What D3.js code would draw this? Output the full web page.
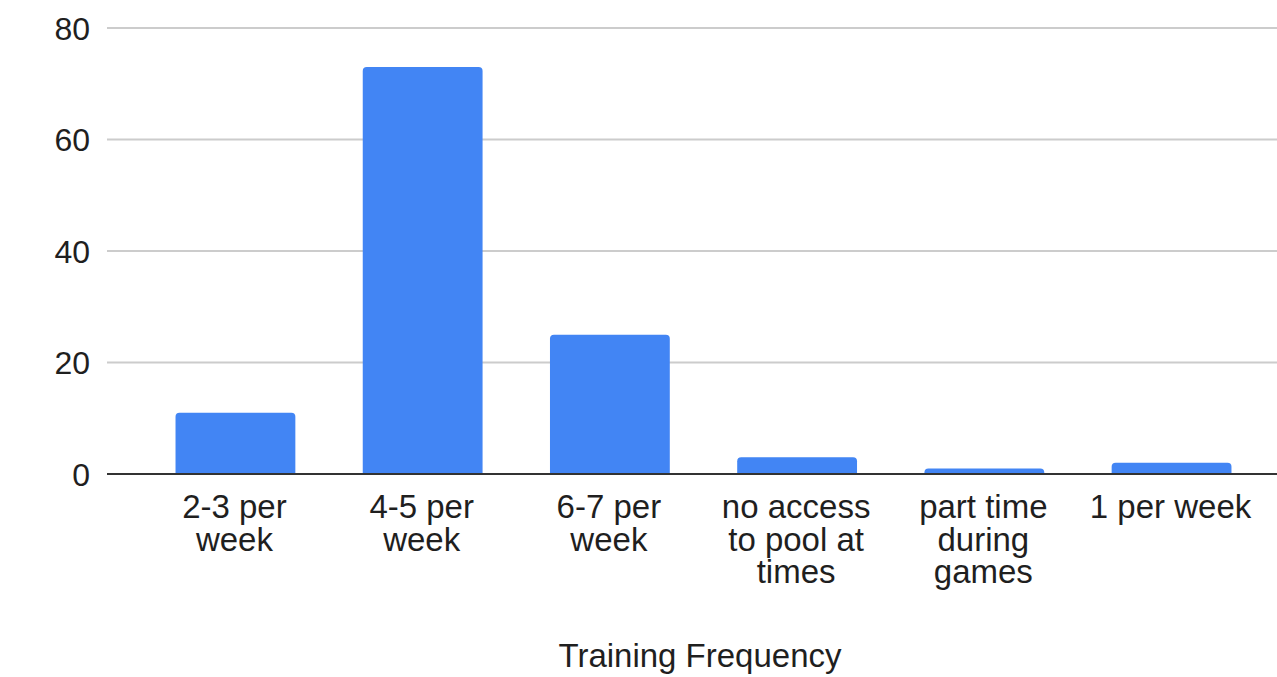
<!DOCTYPE html>
<html>
<head>
<meta charset="utf-8">
<script src="https://cdn.jsdelivr.net/npm/d3@7"></script>
<style>
  html, body { margin: 0; padding: 0; background: #fff; overflow: hidden; }
  svg { display: block; }
  text { font-family: Arial, "Liberation Sans", sans-serif; fill: #1f1f1f; }
</style>
</head>
<body>
<svg id="chart" width="1277" height="677"></svg>
<script>
// Training frequency survey counts
const categories = ["2-3 per week", "4-5 per week", "6-7 per week", "no access to pool at times", "part time during games", "1 per week"];
const counts = [11, 73, 25, 3, 1, 2];
const yTicks = [0, 20, 40, 60, 80];
const xTitle = "Training Frequency";

(function draw() {
  const svg = d3.select("#chart");
  const W = 1277;
  const plotLeft = 107, plotRight = 1300, plotTop = 28, plotBottom = 474;
  const labelSize = 33;

  const x = d3.scaleBand()
    .domain(categories)
    .range([plotLeft, plotRight])
    .paddingInner(0.36)
    .paddingOuter(0.366);

  const y = d3.scaleLinear().domain([0, 80]).range([plotBottom, plotTop]);

  // horizontal gridlines
  svg.append("g").selectAll("line")
    .data(yTicks.filter(d => d !== 0))
    .join("line")
    .attr("x1", plotLeft).attr("x2", W)
    .attr("y1", d => y(d)).attr("y2", d => y(d))
    .attr("stroke", "#cccccc").attr("stroke-width", 2);

  // y tick labels
  svg.append("g").selectAll("text")
    .data(yTicks)
    .join("text")
    .attr("x", 90)
    .attr("y", d => y(d) + 11.5)
    .attr("text-anchor", "end")
    .attr("font-size", 32)
    .text(d => d);

  // bars with rounded top corners
  const r = 4;
  function barPath(x0, w, yTop, yBase) {
    const rr = Math.min(r, (yBase - yTop), w / 2);
    return `M${x0},${yBase}V${yTop + rr}Q${x0},${yTop} ${x0 + rr},${yTop}` +
           `H${x0 + w - rr}Q${x0 + w},${yTop} ${x0 + w},${yTop + rr}V${yBase}Z`;
  }
  svg.append("g").selectAll("path")
    .data(categories.map((c, i) => ({ c, v: counts[i] })))
    .join("path")
    .attr("d", d => barPath(x(d.c), x.bandwidth(), y(d.v), y(0)))
    .attr("fill", "#4285f4");

  // zero baseline
  svg.append("line")
    .attr("x1", plotLeft).attr("x2", W)
    .attr("y1", y(0)).attr("y2", y(0))
    .attr("stroke", "#333333").attr("stroke-width", 2);

  // category labels, wrapped to fit each band
  const maxW = x.step() * 0.92;
  const labelG = svg.append("g");
  categories.forEach(c => {
    const cx = x(c) + x.bandwidth() / 2 - 1;
    const t = labelG.append("text")
      .attr("x", cx)
      .attr("y", 518)
      .attr("text-anchor", "middle")
      .attr("font-size", labelSize);
    const words = c.split(" ");
    const lines = [];
    let line = [];
    const probe = labelG.append("text").attr("font-size", labelSize);
    words.forEach(w => {
      probe.text(line.concat(w).join(" "));
      if (probe.node().getComputedTextLength() > maxW && line.length) {
        lines.push(line.join(" "));
        line = [w];
      } else {
        line.push(w);
      }
    });
    lines.push(line.join(" "));
    probe.remove();
    lines.forEach((l, i) => {
      t.append("tspan")
        .attr("x", cx)
        .attr("dy", i === 0 ? 0 : 32.5)
        .text(l);
    });
  });

  // x axis title
  svg.append("text")
    .attr("x", 700)
    .attr("y", 667)
    .attr("text-anchor", "middle")
    .attr("font-size", labelSize)
    .text(xTitle);
})();
</script>
</body>
</html>
